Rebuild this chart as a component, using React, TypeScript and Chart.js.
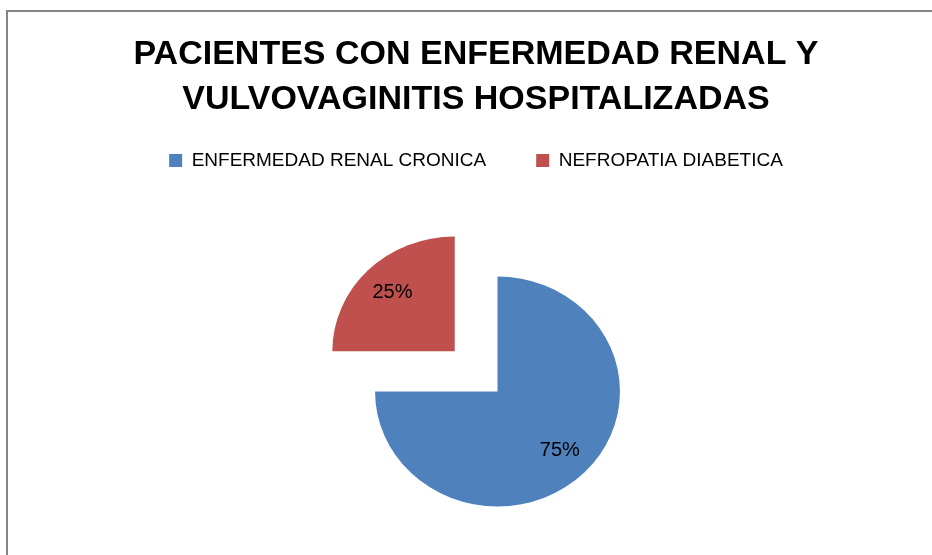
import React, { useEffect, useRef } from 'react';
import { Chart, registerables } from 'chart.js';

Chart.register(...registerables);

const TITLE_LINES = ['PACIENTES CON ENFERMEDAD RENAL Y', 'VULVOVAGINITIS HOSPITALIZADAS'];
const CATEGORIES = ['ENFERMEDAD RENAL CRONICA', 'NEFROPATIA DIABETICA'];
const VALUES = [75, 25];
const COLORS = ['#4F81BD', '#C0504D'];
const EXPLODE = [0, 235];

const FONT = '"Liberation Sans", Arial, sans-serif';
// slight horizontal stretch of the pie, as in the original rendering
const SX = 1.029;
const SY = 0.966;

const piePlugin = {
  id: 'piePlugin',
  beforeDatasetsDraw(chart: any) {
    const ctx = chart.ctx;
    const arc: any = chart.getDatasetMeta(0).data[0];
    if (!arc) return;
    ctx.save();
    ctx.translate(arc.x, arc.y);
    ctx.scale(SX, SY);
    ctx.translate(-arc.x, -arc.y);
  },
  afterDatasetsDraw(chart: any) {
    const ctx = chart.ctx;
    ctx.restore();
    const meta = chart.getDatasetMeta(0);
    const data = chart.data.datasets[0].data as number[];
    const total = data.reduce((a: number, b: number) => a + b, 0);
    ctx.save();
    ctx.font = `20px ${FONT}`;
    ctx.fillStyle = '#000000';
    ctx.textAlign = 'center';
    ctx.textBaseline = 'middle';
    meta.data.forEach((arc: any, i: number) => {
      const { x, y, startAngle, endAngle, outerRadius } = arc.getProps(
        ['x', 'y', 'startAngle', 'endAngle', 'outerRadius'],
        true
      );
      const mid = (startAngle + endAngle) / 2;
      const off = (arc.options.offset || 0) / 4;
      const d = off + outerRadius * 0.72;
      ctx.fillText(
        Math.round((data[i] / total) * 100) + '%',
        x + Math.cos(mid) * d * SX,
        y + Math.sin(mid) * d * SY
      );
    });
    ctx.restore();
  },
};

export default function App() {
  const canvasRef = useRef<HTMLCanvasElement | null>(null);

  useEffect(() => {
    if (!canvasRef.current) return;
    const chart = new Chart(canvasRef.current, {
      type: 'pie',
      data: {
        labels: CATEGORIES,
        datasets: [
          {
            data: VALUES,
            backgroundColor: COLORS,
            borderWidth: 0,
            offset: EXPLODE,
            hoverOffset: 0,
            radius: 119,
          } as any,
        ],
      },
      options: {
        responsive: false,
        devicePixelRatio: 1,
        animation: false,
        events: [],
        layout: { padding: { left: 20, right: 0, top: 0, bottom: 0 } },
        plugins: {
          title: {
            display: true,
            text: TITLE_LINES,
            color: '#000000',
            font: { family: FONT, size: 34, weight: 'bold', lineHeight: '45px' } as any,
            padding: { top: 32.5, bottom: -21.5 },
          },
          subtitle: {
            display: true,
            position: 'left',
            fullSize: false,
            text: '',
            padding: 0,
            font: { size: 10, lineHeight: '43px' } as any,
          },
          legend: {
            display: true,
            position: 'top',
            labels: {
              color: '#000000',
              font: { family: FONT, size: 19 },
              boxWidth: 13,
              boxHeight: 13,
              padding: 50,
            },
          },
          tooltip: { enabled: false },
        },
      } as any,
      plugins: [piePlugin],
    });
    return () => chart.destroy();
  }, []);

  return (
    <div
      style={{
        position: 'fixed',
        left: 0,
        top: 0,
        width: 932,
        height: 555,
        overflow: 'hidden',
        background: '#ffffff',
      }}
    >
      <div
        style={{
          position: 'absolute',
          left: 6,
          top: 10,
          width: 1000,
          height: 600,
          borderLeft: '2px solid #868686',
          borderTop: '2px solid #868686',
        }}
      />
      <canvas
        ref={canvasRef}
        width={932}
        height={603}
        style={{ position: 'absolute', left: 0, top: 0, width: 932, height: 603 }}
      />
    </div>
  );
}
